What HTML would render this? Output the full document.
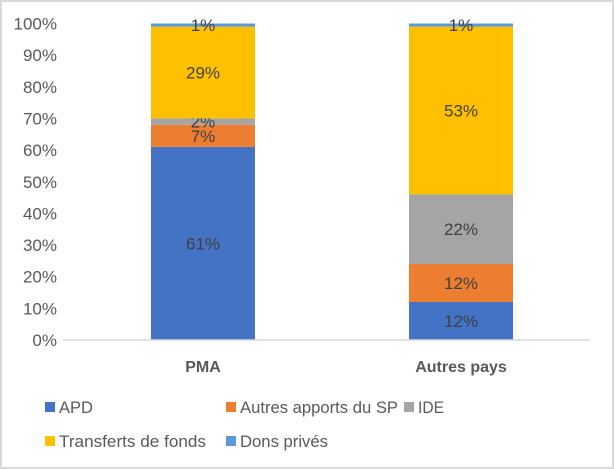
<!DOCTYPE html>
<html><head><meta charset="utf-8"><style>
body{margin:0;background:#fff}
svg{display:block;font-family:"Liberation Sans",sans-serif}
</style></head><body>
<svg id="c" width="614" height="469">
<rect x="1" y="1" width="612" height="467" fill="#fff" stroke="#d9d9d9" stroke-width="2"/>
</svg>
<script>
const categories=["PMA","Autres pays"];
const seriesNames=["APD","Autres apports du SP","IDE","Transferts de fonds","Dons privés"];
const APD=[61,12];
const autresSP=[7,12];
const IDE=[2,22];
const transferts=[29,53];
const dons=[1,1];
const yTicks=[0,10,20,30,40,50,60,70,80,90,100];
const colors=["#4472c4","#ed7d31","#a5a5a5","#ffc000","#5b9bd5"];
const series=[APD,autresSP,IDE,transferts,dons];
const NS="http://www.w3.org/2000/svg";
const svg=document.getElementById('c');
const y=v=>340-v*3.165;
const xc=i=>203+i*258;
const bw=104;
function mk(t,a,txt){const e=document.createElementNS(NS,t);for(const k in a)e.setAttribute(k,a[k]);if(txt!=null)e.textContent=txt;svg.appendChild(e);return e;}
yTicks.forEach(t=>{
 const e=mk('text',{x:57,y:y(t)+6,'text-anchor':'end','font-size':17,fill:'#595959'},t+'%');
 
 
});
categories.forEach((c,i)=>{
 let cum=0;
 series.forEach((s,j)=>{
  const v=s[i];
  const r=mk('rect',{x:xc(i)-bw/2,y:y(cum+v),width:bw,height:y(cum)-y(cum+v),fill:colors[j]});
  
  
  const l=mk('text',{x:xc(i),y:(y(cum)+y(cum+v))/2+6,'text-anchor':'middle','font-size':17,fill:'#404040'},v+'%');
  
  
  cum+=v;
 });
 const t=mk('text',{x:xc(i),y:372,'text-anchor':'middle','font-size':16,'font-weight':'bold',fill:'#595959'},c);
 
 
});
const ax=mk('line',{x1:63,x2:590,y1:340,y2:340,stroke:'#d9d9d9','stroke-width':1.5});


const legPos=[[45,407],[226,407],[404,407],[45,441],[226,441]];
const legW=[34,158,26,147,88];
seriesNames.forEach((n,j)=>{
 const [lx,ly]=legPos[j];
 const s=mk('rect',{x:lx,y:ly-5,width:10,height:10,fill:colors[j]});
 
 
 const t=mk('text',{x:lx+14,y:ly+6,'font-size':17,fill:'#595959',textLength:legW[j],lengthAdjust:'spacingAndGlyphs'},n);
 
 
});
</script>
</body></html>
